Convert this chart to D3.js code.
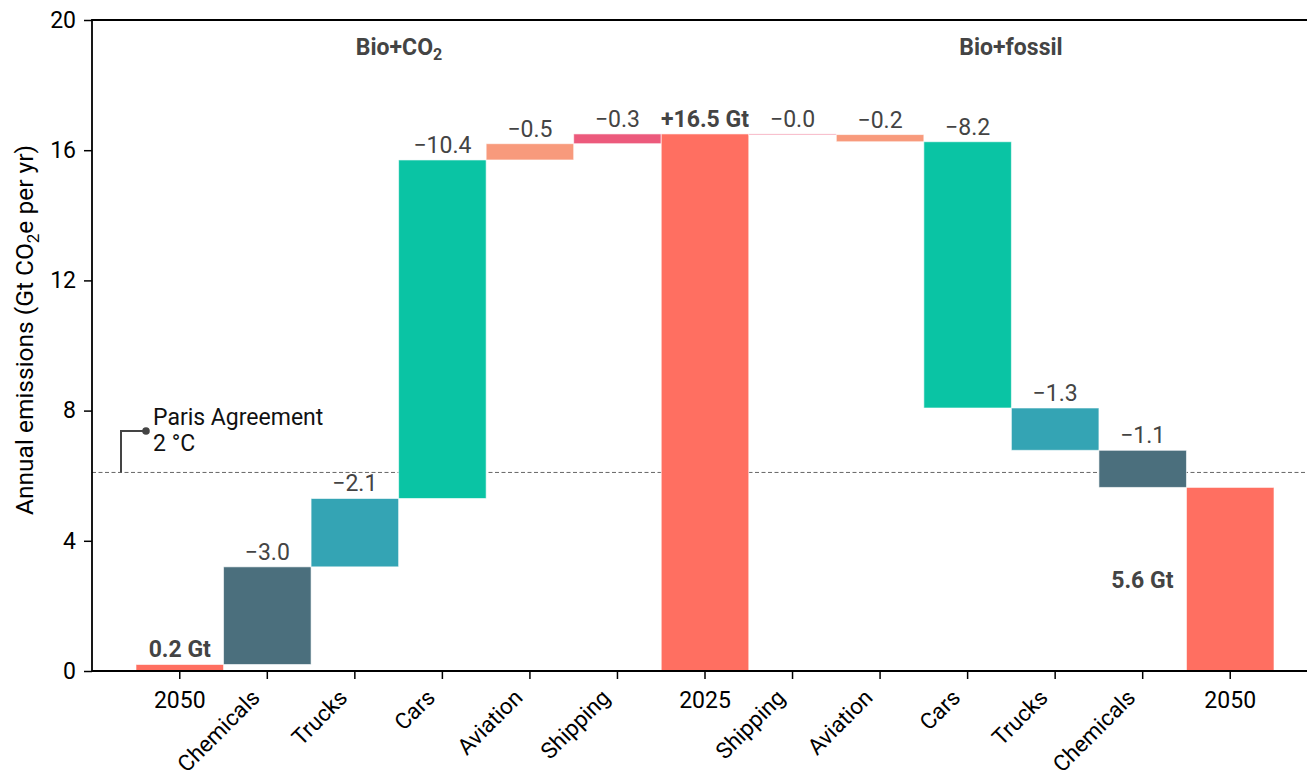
<!DOCTYPE html>
<html>
<head>
<meta charset="utf-8">
<script src="https://cdn.jsdelivr.net/npm/d3@7"></script>
<style>
  html, body { margin: 0; padding: 0; background: #fff; }
  svg { display: block; font-family: Roboto, "Noto Sans", sans-serif; }
</style>
</head>
<body>
<svg id="chart" width="1307" height="777"></svg>
<script>
// Sector labels along the x axis, left scenario then right scenario
const categories = ["2050", "Chemicals", "Trucks", "Cars", "Aviation", "Shipping",
                    "2025",
                    "Shipping", "Aviation", "Cars", "Trucks", "Chemicals", "2050"];

// Emissions (Gt CO2e per yr)
const total2025 = 16.5;
const bioCo2Sectors = ["Chemicals", "Trucks", "Cars", "Aviation", "Shipping"];
const bioCo2Cuts = [-3.0, -2.1, -10.4, -0.5, -0.3];
const bioFossilSectors = ["Shipping", "Aviation", "Cars", "Trucks", "Chemicals"];
const bioFossilCuts = [-0.02, -0.22, -8.18, -1.30, -1.14];
const parisTarget = 6.1;
const yTicks = [0, 4, 8, 12, 16, 20];
const scenarioTitles = ["Bio+CO", "Bio+fossil"];

const colors = {
  total: "#ff6f61",
  Chemicals: "#4b6f7d",
  Trucks: "#34a4b4",
  Cars: "#0ac4a4",
  Aviation: "#f89a7c",
  Shipping: "#ec5a7c"
};

// Build the waterfall segments
const bars = [];
// Left scenario: walk up from 2050 total to 2025
const bioCo2Total = total2025 + d3.sum(bioCo2Cuts);
let level = bioCo2Total;
bars.push({ i: 0, y0: 0, y1: bioCo2Total, color: colors.total, label: bioCo2Total.toFixed(1) + " Gt", bold: true });
bioCo2Cuts.forEach((c, k) => {
  const next = level - c;
  bars.push({ i: k + 1, y0: level, y1: next, color: colors[bioCo2Sectors[k]], label: "\u2212" + Math.abs(c).toFixed(1) });
  level = next;
});
bars.push({ i: 6, y0: 0, y1: total2025, color: colors.total, label: "+" + total2025.toFixed(1) + " Gt", bold: true });
// Right scenario: walk down from 2025
level = total2025;
bioFossilCuts.forEach((c, k) => {
  const next = level + c;
  bars.push({ i: k + 7, y0: next, y1: level, color: colors[bioFossilSectors[k]], label: "\u2212" + Math.abs(c).toFixed(1) });
  level = next;
});
const bioFossilTotal = level;
bars.push({ i: 12, y0: 0, y1: bioFossilTotal, color: colors.total, label: bioFossilTotal.toFixed(1) + " Gt", bold: true, side: true });

const svg = d3.select("#chart");
const plotLeft = 92, plotRight = 1318, plotTop = 20, plotBottom = 671;

const x = d3.scaleBand()
  .domain(d3.range(categories.length))
  .range([plotLeft + 44, plotRight - 44])
  .padding(0);
const y = d3.scaleLinear().domain([0, 20]).range([plotBottom, plotTop]);

// Paris Agreement reference line
svg.append("line")
  .attr("x1", plotLeft).attr("x2", plotRight)
  .attr("y1", y(parisTarget)).attr("y2", y(parisTarget))
  .attr("stroke", "#666").attr("stroke-width", 1)
  .attr("stroke-dasharray", "4,2.5");

// Waterfall bars
svg.append("g").selectAll("rect").data(bars).join("rect")
  .attr("x", d => x(d.i))
  .attr("width", x.bandwidth())
  .attr("y", d => y(Math.max(d.y0, d.y1)))
  .attr("height", d => Math.max(1, Math.abs(y(d.y0) - y(d.y1))))
  .attr("fill", d => d.color)
  .attr("stroke", "#fff").attr("stroke-opacity", 0.6).attr("stroke-width", 1);

// Value labels
svg.append("g").selectAll("text").data(bars).join("text")
  .attr("x", d => d.side ? x(d.i) - 13 : x(d.i) + x.bandwidth() / 2)
  .attr("y", d => d.side ? 588 : y(Math.max(d.y0, d.y1)) - 7)
  .attr("text-anchor", d => d.side ? "end" : "middle")
  .attr("font-size", 23)
  .attr("font-weight", d => d.bold ? "bold" : "normal")
  .attr("fill", "#444")
  .text(d => d.label);

// Axes
const yAxis = svg.append("g")
  .attr("transform", `translate(${plotLeft},0)`)
  .call(d3.axisLeft(y).tickValues(yTicks).tickSize(8).tickPadding(8));
yAxis.select(".domain").remove();
yAxis.selectAll("line").attr("stroke", "#000").attr("stroke-width", 1.5);
yAxis.selectAll("text").attr("font-size", 23).attr("fill", "#000")
  .attr("font-family", "Roboto, sans-serif");

const xAxis = svg.append("g")
  .attr("transform", `translate(0,${plotBottom})`)
  .call(d3.axisBottom(x).tickSize(8).tickFormat(i => categories[i]));
xAxis.select(".domain").remove();
xAxis.selectAll("line").attr("stroke", "#000").attr("stroke-width", 1.5);
xAxis.selectAll("text")
  .attr("font-size", 22.5).attr("fill", "#000")
  .attr("font-family", "Roboto, sans-serif")
  .each(function (i) {
    const t = d3.select(this);
    if (/^\d+$/.test(categories[i])) {
      t.attr("y", 0).attr("dy", null).attr("font-size", 23).attr("transform", "translate(0,37)");
    } else {
      t.attr("y", 0).attr("dy", null)
        .attr("text-anchor", "end")
        .attr("transform", "translate(-6,28) rotate(-45)");
    }
  });

// Frame
svg.append("path")
  .attr("d", `M${plotRight},${plotTop}H${plotLeft}V${plotBottom}H${plotRight}V${plotTop}`)
  .attr("fill", "none").attr("stroke", "#000").attr("stroke-width", 1.8);

// Y axis title
const yTitle = svg.append("text")
  .attr("transform", `translate(33,330) rotate(-90)`)
  .attr("text-anchor", "middle")
  .attr("font-size", 24.5).attr("fill", "#000");
yTitle.append("tspan").text("Annual emissions (Gt CO");
yTitle.append("tspan").attr("font-size", 17).attr("dy", 6).text("2");
yTitle.append("tspan").attr("dy", -6).text("e per yr)");

// Scenario titles
const t1 = svg.append("text")
  .attr("x", 399).attr("y", 55)
  .attr("text-anchor", "middle").attr("font-size", 23)
  .attr("font-weight", "bold").attr("fill", "#444");
t1.append("tspan").text(scenarioTitles[0]);
t1.append("tspan").attr("font-size", 16).attr("dy", 5).text("2");
svg.append("text")
  .attr("x", 1011).attr("y", 55)
  .attr("text-anchor", "middle").attr("font-size", 23)
  .attr("font-weight", "bold").attr("fill", "#444")
  .text(scenarioTitles[1]);

// Paris Agreement marker
const py = y(parisTarget);
svg.append("path")
  .attr("d", `M121,${py}V431H146`)
  .attr("fill", "none").attr("stroke", "#444").attr("stroke-width", 2);
svg.append("circle").attr("cx", 146).attr("cy", 431).attr("r", 3.8).attr("fill", "#444");
svg.append("text").attr("x", 153).attr("y", 425)
  .attr("font-size", 23).attr("fill", "#111").text("Paris Agreement");
svg.append("text").attr("x", 153).attr("y", 451)
  .attr("font-size", 23).attr("fill", "#111").text("2 \u00b0C");
</script>
</body>
</html>
